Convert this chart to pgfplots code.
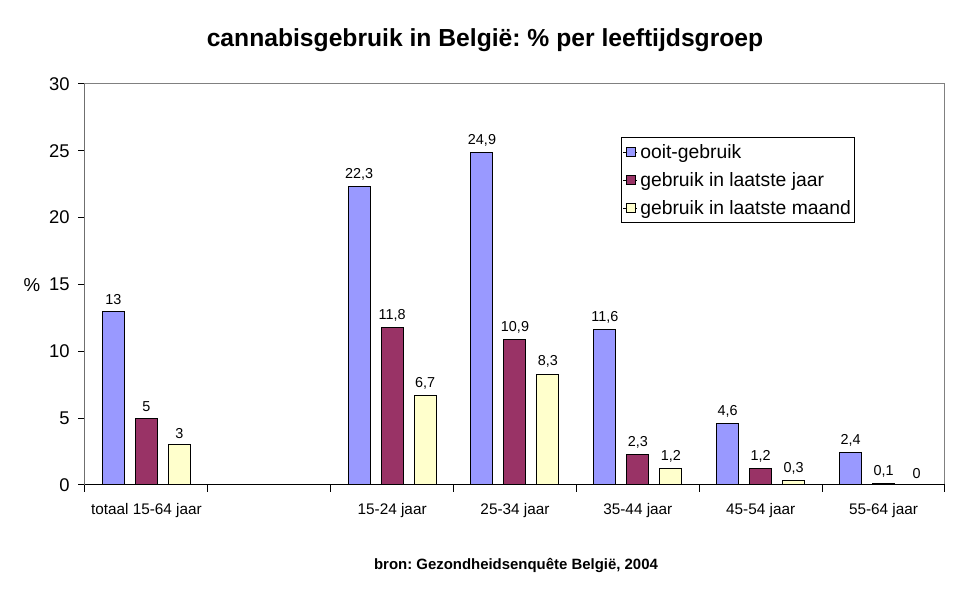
\documentclass[border=0pt]{standalone}
\usepackage{pgfplots}
\pgfplotsset{compat=1.18}
\usepackage{fontspec}
\setmainfont{Liberation Sans}
\frenchspacing
\definecolor{cblue}{HTML}{9999FF}
\definecolor{cred}{HTML}{993366}
\definecolor{cyel}{HTML}{FFFFCC}
\begin{document}
\begin{tikzpicture}
\useasboundingbox (-63.75pt,-90pt) rectangle (662.25pt,363.75pt);
\begin{axis}[
  at={(0,0)}, anchor=south west,
  scale only axis, width=645pt, height=300.75pt,
  xmin=-0.5, xmax=6.5, ymin=0, ymax=30,
  ytick={0,5,...,30},
  xtick={0,2,3,4,5,6},
  xticklabels={totaal 15-64 jaar,15-24 jaar,25-34 jaar,35-44 jaar,45-54 jaar,55-64 jaar},
  minor xtick={-0.5,0.5,...,6.5},
  major x tick style={draw=none},
  minor x tick style={black, line width=0.75pt},
  major y tick style={black, line width=0.75pt},
  major tick length=5pt, minor tick length=5pt,
  tick align=outside, xtick pos=bottom, ytick pos=left,
  axis line style={draw=gray, line width=0.75pt},
  /pgf/number format/assume math mode=true,
  yticklabel style={font=\fontsize{13.8}{16}\selectfont, xshift=-3pt},
  xticklabel style={font=\fontsize{11.5}{13}\selectfont, yshift=-5pt},
  ybar, bar width=16.5pt,
  nodes near coords,
  /pgf/number format/use comma,
  every node near coord/.append style={font=\fontsize{10.8}{12}\selectfont, black, yshift=1pt},
  legend style={at={(0.623,0.868)}, anchor=north west, draw=black, line width=0.75pt,
    font=\fontsize{14.5}{17}\selectfont, row sep=5pt, inner xsep=1pt, inner ysep=3pt},
  legend cell align=left,
  legend image code/.code={\path (0pt,0pt) -- (2.5pt,0pt); \draw[#1, line width=0.5pt] (2.5pt,-3pt) rectangle (9pt,3.5pt); \path (9pt,0pt) -- (10.5pt,0pt);},
]
\addplot[fill=cblue, draw=black, line width=0.75pt, bar shift=-24.75pt] coordinates {(0,13) (2,22.3) (3,24.9) (4,11.6) (5,4.6) (6,2.4)};
\addlegendentry{ooit-gebruik}
\addplot[fill=cred, draw=black, line width=0.75pt, bar shift=0pt] coordinates {(0,5) (2,11.8) (3,10.9) (4,2.3) (5,1.2) (6,0.1)};
\addlegendentry{gebruik in laatste jaar}
\addplot[fill=cyel, draw=black, line width=0.75pt, bar shift=24.75pt] coordinates {(0,3) (2,6.7) (3,8.3) (4,1.2) (5,0.3) (6,0)};
\addlegendentry{gebruik in laatste maand}
\draw[black, line width=0.75pt] (rel axis cs:0,1) -- (rel axis cs:0,0) -- (rel axis cs:1,0);
\end{axis}
\node[font=\fontsize{18.5}{22}\selectfont\bfseries] at (300pt,333.75pt) {cannabisgebruik in België: \% per leeftijdsgroep};
\node[font=\fontsize{11.2}{13}\selectfont\bfseries] at (323.25pt,-60.75pt) {bron: Gezondheidsenquête België, 2004};
\node[font=\fontsize{14}{16}\selectfont] at (-39.75pt,150pt) {\%};
\end{tikzpicture}
\end{document}
